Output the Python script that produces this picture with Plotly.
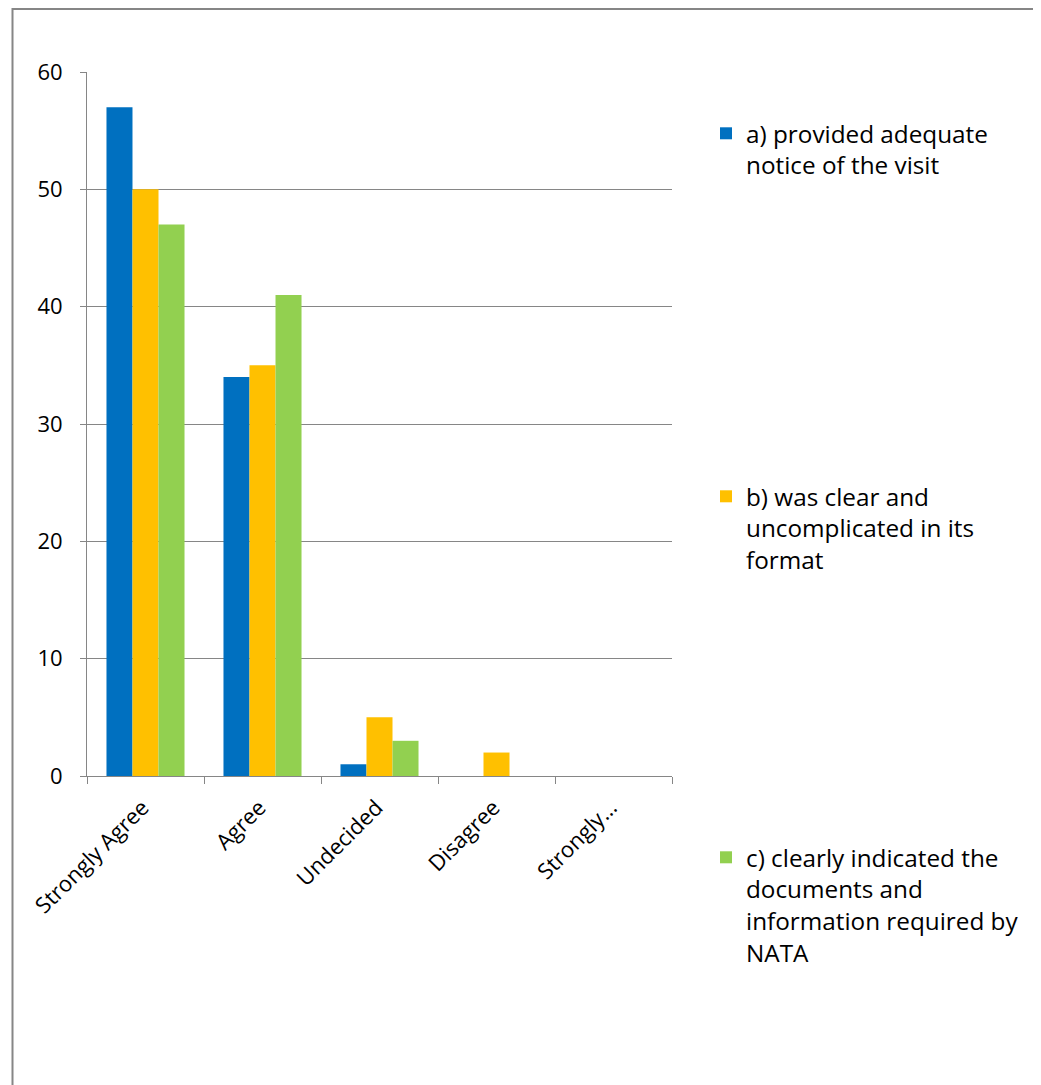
import plotly.graph_objects as go

categories = ["Strongly Agree", "Agree", "Undecided", "Disagree", "Strongly Disagree"]
tick_labels = ["Strongly Agree", "Agree", "Undecided", "Disagree", "Strongly…"]
series_names = [
    "a) provided adequate<br>notice of the visit",
    "b) was clear and<br>uncomplicated in its<br>format",
    "c) clearly indicated the<br>documents and<br>information required by<br>NATA",
]
series_a = [57, 34, 1, 0, 0]
series_b = [50, 35, 5, 2, 0]
series_c = [47, 41, 3, 0, 0]
colors = ["#0070C0", "#FFC000", "#92D050"]
y_ticks = [0, 10, 20, 30, 40, 50, 60]

OFF = 8  # default page body margin
W, H = 1041 - OFF, 1085 - OFF
L, T = 87 - OFF, 72 - OFF
R = W - (672 - OFF)
B = H - (776 - OFF)
pw, ph = W - L - R, H - T - B

FONT = "Open Sans"
TICK_SIZE = 22
LEG_SIZE = 24.3

fig = go.Figure()
legend_names = ["legend", "legend2", "legend3"]
for vals, name, col, lg in zip([series_a, series_b, series_c], series_names, colors, legend_names):
    fig.add_trace(go.Bar(x=categories, y=vals, name=name, marker=dict(color=col, line=dict(width=0)),
                         legend=lg, showlegend=True))


def px_x(page_px):
    return (page_px - OFF - L) / pw


def px_y(page_py):
    return (H - B - (page_py - OFF)) / ph


leg_common = dict(font=dict(family=FONT, size=LEG_SIZE, color="#000000"), valign="top",
                  xanchor="left", yanchor="top", bgcolor="rgba(0,0,0,0)", itemwidth=30,
                  tracegroupgap=0, borderwidth=0)
fig.update_layout(
    width=W, height=H,
    margin=dict(l=L, r=R, t=T, b=B, autoexpand=False),
    paper_bgcolor="white", plot_bgcolor="white",
    showlegend=True,
    barmode="group", bargap=0.333, bargroupgap=0,
    font=dict(family=FONT, size=TICK_SIZE, color="#000000"),
    legend=dict(x=px_x(706), y=px_y(111), **leg_common),
    legend2=dict(x=px_x(706), y=px_y(474), **leg_common),
    legend3=dict(x=px_x(706), y=px_y(835), **leg_common),
    xaxis=dict(type="category", tickvals=categories, ticktext=tick_labels, tickangle=-45,
               tickson="boundaries", ticks="outside", ticklen=7, tickcolor="#868686",
               ticklabelstandoff=9, ticklabelshift=-3,
               showline=True, linecolor="#868686", linewidth=1, showgrid=False,
               tickfont=dict(family=FONT, size=TICK_SIZE, color="#000000")),
    yaxis=dict(range=[0, 60], tickvals=y_ticks, ticks="outside", ticklen=6, tickcolor="#868686",
               ticklabelstandoff=13,
               showline=True, linecolor="#868686", linewidth=1, showgrid=True,
               gridcolor="#868686", gridwidth=1, zeroline=False,
               tickfont=dict(family=FONT, size=TICK_SIZE, color="#000000")),
    shapes=[
        dict(type="line", xref="paper", yref="paper", x0=px_x(12), x1=px_x(1060),
             y0=px_y(9), y1=px_y(9), line=dict(color="#868686", width=2)),
        dict(type="line", xref="paper", yref="paper", x0=px_x(12.5), x1=px_x(12.5),
             y0=px_y(8), y1=px_y(1100), line=dict(color="#868686", width=2)),
    ],
)
fig.write_html("out.html")
